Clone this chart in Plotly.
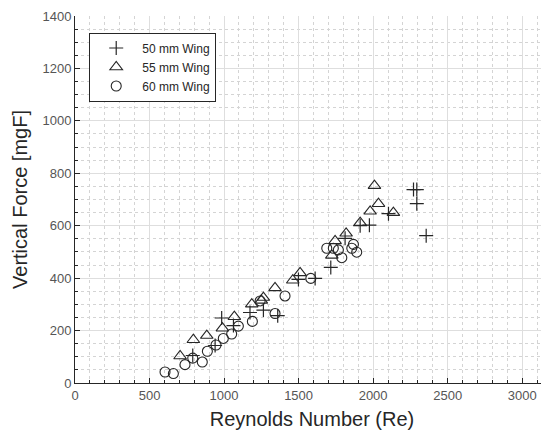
import plotly.graph_objects as go

# 50 mm wing (plus markers)
re_50 = [790, 940, 984, 1063, 1174, 1264, 1360, 1499, 1611, 1716, 1812, 1913, 1975, 2103, 2271, 2293, 2293, 2356]
f_50 = [105, 143, 248, 219, 269, 278, 257, 395, 399, 441, 552, 600, 602, 646, 738, 738, 684, 562]

# 55 mm wing (triangle markers)
re_55 = [705, 794, 884, 989, 1069, 1186, 1250, 1264, 1342, 1461, 1510, 1723, 1745, 1819, 1913, 1980, 2009, 2036, 2136]
f_55 = [103, 165, 181, 209, 253, 301, 315, 326, 363, 392, 420, 487, 542, 571, 612, 655, 753, 684, 650]

# 60 mm wing (circle markers)
re_60 = [604, 660, 738, 790, 854, 888, 946, 995, 1051, 1096, 1190, 1242, 1342, 1409, 1582, 1689, 1733, 1767, 1790, 1857, 1868, 1890]
f_60 = [42, 36, 70, 95, 80, 121, 145, 170, 187, 217, 235, 313, 265, 332, 399, 514, 514, 508, 478, 514, 529, 499]

series_names = ["50 mm Wing", "55 mm Wing", "60 mm Wing"]

FONT = "Liberation Sans, Arial, sans-serif"
ink = "#262626"

fig = go.Figure()
fig.add_trace(go.Scatter(x=re_50, y=f_50, mode="markers", name=series_names[0],
                         marker=dict(symbol="cross-thin-open", size=10, color=ink, line=dict(color=ink, width=1.2))))
fig.add_trace(go.Scatter(x=re_55, y=f_55, mode="markers", name=series_names[1],
                         marker=dict(symbol="triangle-up-open", size=11, color=ink, line=dict(color=ink, width=1.1))))
fig.add_trace(go.Scatter(x=re_60, y=f_60, mode="markers", name=series_names[2],
                         marker=dict(symbol="circle-open", size=10, color=ink, line=dict(color=ink, width=1.1))))

axis_common = dict(
    showline=True, linecolor=ink, linewidth=1, mirror=False,
    ticks="inside", ticklen=5, tickcolor=ink,
    showgrid=True, gridcolor="#dedede", gridwidth=1,
    zeroline=False, automargin=False, ticklabeloverflow="allow",
    tickfont=dict(family=FONT, size=13, color="#555555"),
)

fig.update_xaxes(range=[0, 3180], dtick=500, tick0=0,
                 title=dict(text="Reynolds Number (Re)", font=dict(family=FONT, size=20, color=ink), standoff=10),
                 minor=dict(dtick=100, showgrid=True, griddash="dot", gridcolor="#d4d4d4",
                            ticks="inside", ticklen=3, tickcolor=ink),
                 **axis_common)
fig.update_yaxes(range=[0, 1400], dtick=200, tick0=0,
                 title=dict(text="Vertical Force [mgF]", font=dict(family=FONT, size=20, color=ink), standoff=9),
                 minor=dict(dtick=50, showgrid=True, griddash="dot", gridcolor="#d4d4d4",
                            ticks="inside", ticklen=3, tickcolor=ink),
                 **axis_common)

fig.update_layout(
    width=549, height=440,
    margin=dict(l=67, r=8, t=8, b=65),
    paper_bgcolor="white", plot_bgcolor="white",
    font=dict(family=FONT, color=ink),
    legend=dict(x=0.03, y=0.955, xanchor="left", yanchor="top",
                bgcolor="white", bordercolor=ink, borderwidth=1,
                font=dict(family=FONT, size=12, color=ink),
                itemwidth=42, tracegroupgap=0),
    showlegend=True,
)

fig.write_html("out.html")
